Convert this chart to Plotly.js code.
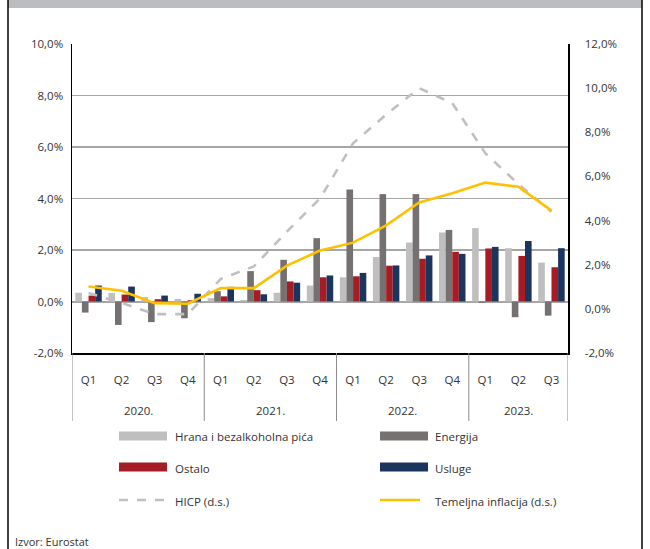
<!DOCTYPE html>
<html><head><meta charset="utf-8">
<script src="https://cdn.plot.ly/plotly-3.0.1.min.js"></script>
<style>body{margin:0;background:#fff}#c{width:650px;height:549px}</style>
</head><body><div id="c"></div>
<script>
// ---- data ----
const years    = ['2020.','2020.','2020.','2020.','2021.','2021.','2021.','2021.','2022.','2022.','2022.','2022.','2023.','2023.','2023.'];
const quarters = ['Q1','Q2','Q3','Q4','Q1','Q2','Q3','Q4','Q1','Q2','Q3','Q4','Q1','Q2','Q3'];
const hrana    = [0.34, 0.33, 0.17, 0.10, 0.13, 0.06, 0.34, 0.62, 0.94, 1.73, 2.29, 2.68, 2.85, 2.07, 1.51];
const energija = [-0.43,-0.91,-0.80,-0.65, 0.40, 1.18, 1.62, 2.46, 4.35, 4.17, 4.17, 2.78, -0.05,-0.61,-0.55];
const ostalo   = [0.23, 0.27, 0.09, 0.05, 0.20, 0.44, 0.78, 0.94, 0.98, 1.39, 1.66, 1.93, 2.06, 1.77, 1.33];
const usluge   = [0.62, 0.58, 0.23, 0.30, 0.57, 0.28, 0.73, 1.01, 1.11, 1.40, 1.79, 1.85, 2.12, 2.35, 2.07];
const hicp     = [0.72, 0.27,-0.24,-0.24, 1.36, 1.92, 3.50, 5.00, 7.50, 8.80, 10.0, 9.32, 7.05, 5.65, 4.40];
const temeljna = [1.01, 0.82, 0.26, 0.23, 0.94, 0.94, 1.96, 2.64, 3.00, 3.78, 4.82, 5.24, 5.72, 5.53, 4.45];
const leftTickVals  = [-2, 0, 2, 4, 6, 8, 10];
const leftTickText  = ['-2,0%','0,0%','2,0%','4,0%','6,0%','8,0%','10,0%'];
const rightTickVals = [-2, 0, 2, 4, 6, 8, 10, 12];
const rightTickText = ['-2,0%','0,0%','2,0%','4,0%','6,0%','8,0%','10,0%','12,0%'];
const seriesNames = ['Hrana i bezalkoholna pića','Energija','Ostalo','Usluge','HICP (d.s.)','Temeljna inflacija (d.s.)'];
const sourceText = 'Izvor: Eurostat';

// ---- styles ----
const colors = ['#bfbfbf','#767171','#a51c24','#1c355e','#c0c0c0','#ffc000'];
const FONT = 'Open Sans, sans-serif';
const TXT = '#333333';
const W = 650, H = 549, ML = 72, MR = 82, MT = 44, MB = 196;
const PW = W - ML - MR, PH = H - MT - MB;
const px = v => (v - ML) / PW;
const py = v => (H - MB - v) / PH;
const idx = quarters.map((q, i) => i);

const barVals = [hrana, energija, ostalo, usluge];
const traces = barVals.map((vals, i) => ({
  type: 'bar', x: idx, y: vals, name: seriesNames[i],
  marker: {color: colors[i], line: {width: 0}}
}));
traces.push({type:'scatter', mode:'lines', x:idx, y:hicp, name:seriesNames[4], yaxis:'y2',
  line:{color:colors[4], width:2.6, dash:'dash'}});
traces.push({type:'scatter', mode:'lines', x:idx, y:temeljna, name:seriesNames[5], yaxis:'y2',
  line:{color:colors[5], width:2.6}});

// frame
const shapes = [
  {type:'rect', xref:'paper', yref:'paper', x0:px(8), x1:px(642), y0:py(0), y1:py(8), fillcolor:'#bcbdc0', line:{width:0}, layer:'below'},
  {type:'line', xref:'paper', yref:'paper', x0:px(8), x1:px(8), y0:py(0), y1:py(549), line:{color:'#000', width:1.5}},
  {type:'line', xref:'paper', yref:'paper', x0:px(642), x1:px(642), y0:py(0), y1:py(549), line:{color:'#000', width:1.5}}
];
const annotations = [];

// year group labels and dividers (derived from the years array)
const groups = [];
years.forEach((y, i) => {
  if (!groups.length || groups[groups.length - 1].name !== y) groups.push({name: y, start: i, end: i});
  else groups[groups.length - 1].end = i;
});
groups.forEach((g, k) => {
  const x0 = g.start - 0.5;
  shapes.push({type:'line', xref:'x', yref:'paper', x0:x0, x1:x0, y0:py(353), y1:py(421),
    line:{color:'#8c8c8c', width:1}});
  if (k === groups.length - 1) {
    shapes.push({type:'line', xref:'x', yref:'paper', x0:g.end + 0.5, x1:g.end + 0.5, y0:py(353), y1:py(421),
      line:{color:'#8c8c8c', width:1}});
  }
  annotations.push({xref:'x', yref:'paper', x:(g.start + g.end) / 2, y:py(410), text:g.name,
    showarrow:false, xanchor:'center', yanchor:'middle', font:{family:FONT, size:11.5, color:TXT}});
});

// custom legend
const legPos = [[119,436],[380,436],[119,467],[380,467],[119,500],[380,500]];
seriesNames.forEach((n, i) => {
  const [lx, ly] = legPos[i];
  if (i < 4) {
    shapes.push({type:'rect', xref:'paper', yref:'paper', x0:px(lx), x1:px(lx+48), y0:py(ly-4.5), y1:py(ly+4.5),
      fillcolor:colors[i], line:{width:0}});
  } else {
    const len = i === 4 ? 48 : 40;
    shapes.push({type:'line', xref:'paper', yref:'paper', x0:px(lx), x1:px(lx+len), y0:py(ly), y1:py(ly),
      line:{color:colors[i], width:2.6, dash: i === 4 ? 'dash' : 'solid'}});
  }
  annotations.push({xref:'paper', yref:'paper', x:px(i % 2 === 0 ? 173 : 433), y:py(ly+1), text:n,
    showarrow:false, xanchor:'left', yanchor:'middle', font:{family:FONT, size:11.5, color:TXT}});
});
annotations.push({xref:'paper', yref:'paper', x:px(13), y:py(541), text:sourceText, showarrow:false,
  xanchor:'left', yanchor:'middle', font:{family:FONT, size:11, color:TXT}});

const layout = {
  width: W, height: H,
  margin: {l: ML, r: MR, t: MT, b: MB, pad: 0},
  paper_bgcolor: '#fff', plot_bgcolor: '#fff',
  showlegend: false,
  barmode: 'group', bargap: 0.2, bargroupgap: 0,
  font: {family: FONT, size: 11, color: TXT},
  xaxis: {
    type: 'linear', range: [-0.5, quarters.length - 0.5],
    tickvals: idx, ticktext: quarters,
    showline: true, linecolor: '#000', linewidth: 1.5,
    showgrid: false, zeroline: false, ticks: '', ticklabelstandoff: 16,
    tickfont: {family: FONT, size: 11.5, color: TXT}, fixedrange: true
  },
  yaxis: {
    range: [-2, 10], tickvals: leftTickVals, ticktext: leftTickText,
    showgrid: true, gridcolor: '#a6a6a6', gridwidth: 1.5,
    zeroline: true, zerolinecolor: '#a6a6a6', zerolinewidth: 2,
    showline: true, linecolor: '#000', linewidth: 1.5,
    ticks: '', ticklabelstandoff: 5,
    tickfont: {family: FONT, size: 11.5, color: TXT}, fixedrange: true
  },
  yaxis2: {
    overlaying: 'y', side: 'right', range: [-2, 12],
    tickvals: rightTickVals, ticktext: rightTickText,
    showgrid: false, zeroline: false,
    showline: true, linecolor: '#000', linewidth: 1.5,
    ticks: '', ticklabelstandoff: 13,
    tickfont: {family: FONT, size: 11.5, color: TXT}, fixedrange: true
  },
  shapes: shapes,
  annotations: annotations
};
Plotly.newPlot('c', traces, layout, {displayModeBar: false, staticPlot: true});
</script>
</body></html>
